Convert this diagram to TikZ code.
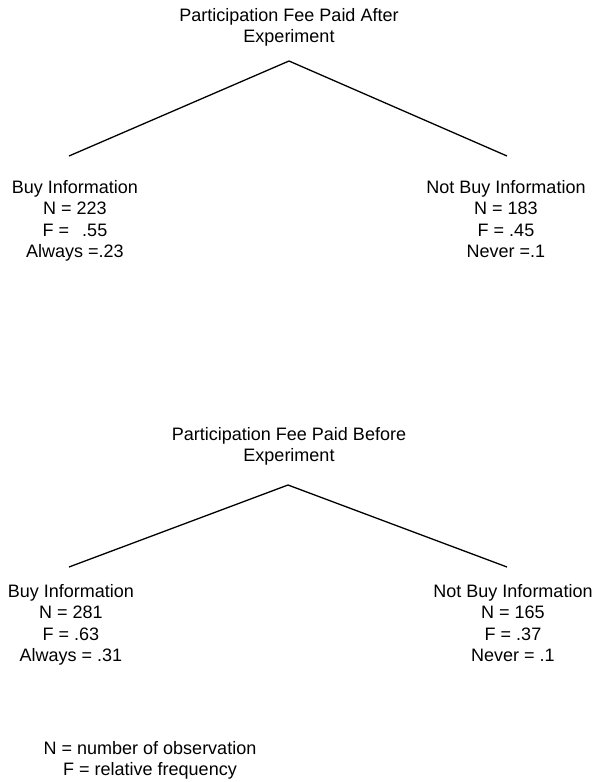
\documentclass[tikz,border=0pt]{standalone}
\usepackage{fontspec}
\setmainfont{Liberation Sans}
\usepackage{tikz}
\usetikzlibrary{positioning}
\usepackage{xcolor}

\begin{document}
\begin{tikzpicture}[x=1pt,y=-1pt,
    % styles
    textnode/.style={inner sep=0pt, align=center, anchor=north, font=\fontsize{18}{21.5}\selectfont},
    branch/.style={line width=1.3pt, black},
    ]
    \useasboundingbox (0,0) rectangle (599,782);

    % upper tree: fee paid after
    \node[textnode] (titleA) at (289,8) {Participation Fee Paid After\\Experiment};
    \coordinate (apexA)  at (289,61);
    \coordinate (leftA)  at (69,156);
    \coordinate (rightA) at (507,156);
    \node[textnode] (buyA)    at (75,180)  {Buy Information\\N = 223\\F = \ \,.55\\Always =.23};
    \node[textnode] (notbuyA) at (506,180) {Not Buy Information\\N = 183\\F = .45\\Never =.1};

    % lower tree: fee paid before
    \node[textnode] (titleB) at (289,427) {Participation Fee Paid Before\\Experiment};
    \coordinate (apexB)  at (288,485);
    \coordinate (leftB)  at (69,567);
    \coordinate (rightB) at (507,567);
    \node[textnode] (buyB)    at (71,584)  {Buy Information\\N = 281\\F = .63\\Always = .31};
    \node[textnode] (notbuyB) at (513,584) {Not Buy Information\\N = 165\\F = .37\\Never = .1};

    % legend
    \node[textnode] (legend) at (150,741) {N = number of observation\\F = relative frequency};

    %Lines
    \draw[branch] (leftA) -- (apexA) -- (rightA);
    \draw[branch] (leftB) -- (apexB) -- (rightB);
\end{tikzpicture}
\end{document}
